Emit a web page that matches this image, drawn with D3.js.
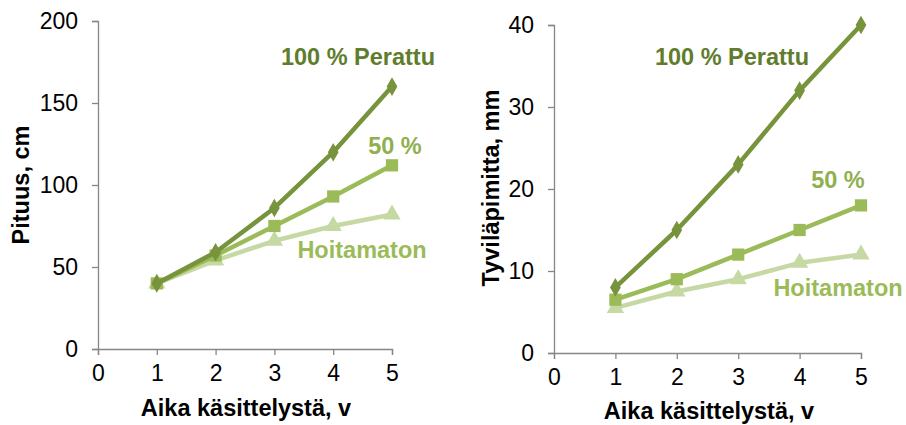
<!DOCTYPE html>
<html>
<head>
<meta charset="utf-8">
<script src="https://cdn.jsdelivr.net/npm/d3@7"></script>
<style>
  body { margin: 0; background: #fff; }
  svg text { font-family: "Liberation Sans", Arial, sans-serif; }
</style>
</head>
<body>
<svg id="chart" width="906" height="425"></svg>
<script>
// data
const years = [1, 2, 3, 4, 5];
const xTicks = [0, 1, 2, 3, 4, 5];

const heightPerattu = [40, 59, 86, 120, 160];
const height50 = [40, 57, 75, 93, 112];
const heightHoitamaton = [40, 54, 66, 75, 82];
const heightTicks = [0, 50, 100, 150, 200];

const diamPerattu = [8, 15, 23, 32, 40];
const diam50 = [6.5, 9, 12, 15, 18];
const diamHoitamaton = [5.5, 7.5, 9, 11, 12];
const diamTicks = [0, 10, 20, 30, 40];

const seriesNames = ['100 % Perattu', '50 %', 'Hoitamaton'];

const svg = d3.select('#chart');

const styles = [
  { line: '#77933c', label: '#5f7d2c', symbol: d3.symbolDiamond, size: 100 },
  { line: '#9bbb59', label: '#8fb050', symbol: d3.symbolSquare, size: 150 },
  { line: '#c6d9a4', label: '#9bbb59', symbol: d3.symbolTriangle, size: 130 }
];

function drawPanel(opts) {
  const g = svg.append('g');
  const x = d3.scaleLinear().domain([0, 5]).range([opts.x0, opts.x5]);
  const y = d3.scaleLinear().domain([0, opts.yMax]).range([opts.yBottom, opts.yTop]);

  // axes
  const yAxis = g.append('g')
    .attr('transform', `translate(${opts.x0},0)`)
    .call(d3.axisLeft(y).tickValues(opts.yTicks).tickFormat(d3.format('d')).tickSize(6).tickPadding(14));
  const xAxis = g.append('g')
    .attr('transform', `translate(0,${opts.yBottom})`)
    .call(d3.axisBottom(x).tickValues(xTicks).tickFormat(d3.format('d')).tickSize(6).tickPadding(10));
  [yAxis, xAxis].forEach(a => {
    a.select('.domain').attr('stroke', '#868686').attr('stroke-width', 1.3);
    a.selectAll('.tick line').attr('stroke', '#868686').attr('stroke-width', 1.3);
    a.selectAll('.tick text').attr('fill', '#000').style('font-size', '23px');
  });

  // axis titles
  g.append('text')
    .attr('x', opts.xTitleX).attr('y', opts.xTitleY)
    .attr('text-anchor', 'middle').attr('dominant-baseline', 'central')
    .style('font-size', '23.5px').style('font-weight', 'bold')
    .text('Aika käsittelystä, v');
  g.append('text')
    .attr('transform', `translate(${opts.yTitleX},${opts.yTitleY}) rotate(-90)`)
    .attr('text-anchor', 'middle').attr('dominant-baseline', 'central')
    .style('font-size', '23.5px').style('font-weight', 'bold')
    .text(opts.yTitle);

  const line = d3.line().x((d, i) => x(years[i])).y(d => y(d));

  // draw lightest first so darker lines sit on top
  [2, 1, 0].forEach(s => {
    const vals = opts.series[s];
    const st = styles[s];
    g.append('path')
      .datum(vals)
      .attr('d', line)
      .attr('fill', 'none')
      .attr('stroke', st.line)
      .attr('stroke-width', 4.5)
      .attr('stroke-linejoin', 'round');
    g.selectAll(null)
      .data(vals)
      .enter().append('path')
      .attr('transform', (d, i) => `translate(${x(years[i])},${y(d)})`)
      .attr('d', d3.symbol().type(st.symbol).size(st.size))
      .attr('fill', st.line);
  });

  // series labels
  opts.labels.forEach((p, s) => {
    g.append('text')
      .attr('x', p[0]).attr('y', p[1])
      .attr('text-anchor', 'middle').attr('dominant-baseline', 'central')
      .attr('fill', styles[s].label)
      .style('font-size', '23.5px').style('font-weight', 'bold')
      .text(seriesNames[s]);
  });
}

drawPanel({
  x0: 98, x5: 392, yTop: 21, yBottom: 349, yMax: 200,
  yTicks: heightTicks,
  series: [heightPerattu, height50, heightHoitamaton],
  yTitle: 'Pituus, cm', yTitleX: 21, yTitleY: 185,
  xTitleX: 246, xTitleY: 408,
  labels: [[358, 57], [395, 146], [362, 250]]
});

drawPanel({
  x0: 554, x5: 861, yTop: 25, yBottom: 353, yMax: 40,
  yTicks: diamTicks,
  series: [diamPerattu, diam50, diamHoitamaton],
  yTitle: 'Tyviläpimitta, mm', yTitleX: 491, yTitleY: 188,
  xTitleX: 709, xTitleY: 411,
  labels: [[732, 57], [838, 180], [838, 288]]
});
</script>
</body>
</html>
